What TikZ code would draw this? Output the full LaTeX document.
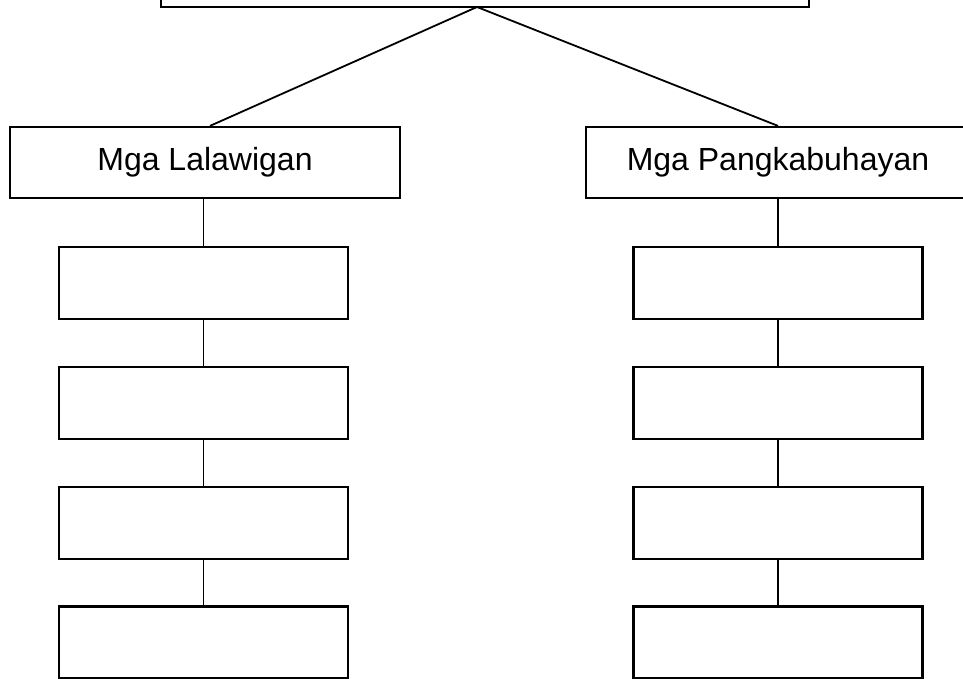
\documentclass[tikz,border=0pt]{standalone}
\usepackage{fontspec}
\setmainfont{Liberation Sans}
\usetikzlibrary{positioning}
\usetikzlibrary{calc}

\begin{document}
\begin{tikzpicture}[x=1pt, y=-1pt,
			bigbox/.style={rectangle, draw=black, line width=2.2pt, minimum height=71pt, inner sep=0pt, font=\fontsize{32}{38}\selectfont},
			smallbox/.style={rectangle, draw=black, line width=2.2pt, minimum width=289pt, minimum height=72pt},
			link/.style={draw=black, line width=1.8pt}
			]
			\useasboundingbox (0,0) rectangle (963,679);
			
			\node[bigbox, minimum width=648pt, minimum height=60pt] at (485,-23) (top) {};
			\coordinate (apex) at (477,7);
			\node[bigbox, minimum width=390pt] at (205,162.5) (lal) {Mga Lalawigan};
			\node[bigbox, minimum width=384pt] at (778,162.5) (pang) {Mga Pangkabuhayan};
			
			\node[smallbox] at (203.5,283) (l1) {};
			\node[smallbox] at (203.5,403) (l2) {};
			\node[smallbox] at (203.5,523) (l3) {};
			\node[smallbox] at (203.5,642.5) (l4) {};
			\node[smallbox] at (778,283) (p1) {};
			\node[smallbox] at (778,403) (p2) {};
			\node[smallbox] at (778,523) (p3) {};
			\node[smallbox] at (778,642.5) (p4) {};
			
			\draw[link] (apex) -- ([xshift=5pt]lal.north);
			\draw[link] (apex) -- (pang.north);
			
			\draw[link] (l1.north |- lal.south) -- (l1.north);
			\draw[link] (l1.south) -- (l2.north);
			\draw[link] (l2.south) -- (l3.north);
			\draw[link] (l3.south) -- (l4.north);
			\draw[link] (pang.south) -- (p1.north);
			\draw[link] (p1.south) -- (p2.north);
			\draw[link] (p2.south) -- (p3.north);
			\draw[link] (p3.south) -- (p4.north);
		\end{tikzpicture}
\end{document}
